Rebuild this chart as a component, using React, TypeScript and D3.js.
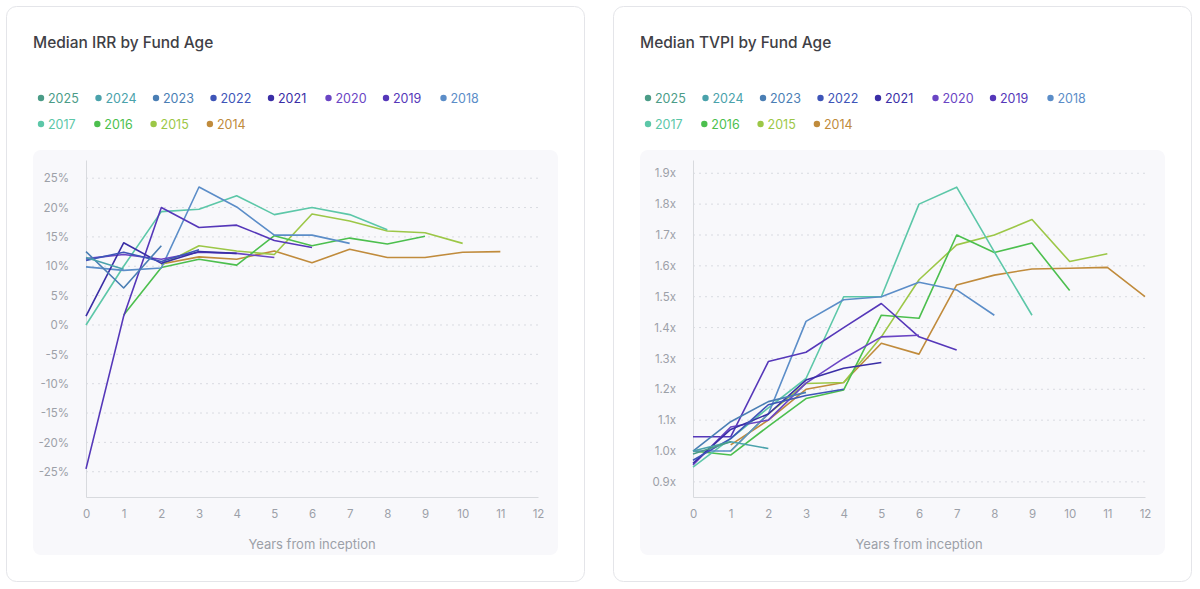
import React, { useRef, useEffect } from "react";
import * as d3 from "d3";

// vintages, newest first (legend order)
const vintages = ["2025", "2024", "2023", "2022", "2021", "2020", "2019", "2018", "2017", "2016", "2015", "2014"];

const colors = [
  "#4b9c87", "#4aa2ab", "#4a7eb4", "#3e55b8", "#3a2ea6", "#6a45c4",
  "#5537b9", "#5b8dc8", "#5cc7a8", "#4cbf4e", "#9cc747", "#c08b3c",
];

const years = [0, 1, 2, 3, 4, 5, 6, 7, 8, 9, 10, 11, 12];

// Median IRR (%) by fund age, index = years from inception
const irr2025 = [0.3];
const irr2024 = [11.5, 9.5];
const irr2023 = [12.5, 6.3, 13.5];
const irr2022 = [11.0, 12.4, 10.8, 12.8];
const irr2021 = [1.5, 14.0, 10.5, 12.5, 12.2];
const irr2020 = [11.3, 12.0, 11.2, 12.4, 12.2, 11.5];
const irr2019 = [-24.5, 1.5, 20.0, 16.6, 17.0, 14.4, 13.2];
const irr2018 = [9.9, 9.3, 9.7, 23.5, 20.1, 15.3, 15.3, 13.9];
const irr2017 = [0.0, 10.0, 19.3, 19.7, 22.0, 18.8, 20.0, 18.8, 16.2];
const irr2016 = [null, 1.7, 9.8, 11.2, 10.2, 15.2, 13.5, 14.8, 13.8, 15.1];
const irr2015 = [null, null, 10.2, 13.5, 12.6, 12.0, 18.9, 17.7, 16.0, 15.7, 13.9];
const irr2014 = [null, null, 10.4, 11.6, 11.2, 12.6, 10.6, 12.9, 11.5, 11.5, 12.4, 12.5];

// Median TVPI (x) by fund age
const tvpi2025 = [0.99, 1.03];
const tvpi2024 = [1.0, 1.03, 1.008];
const tvpi2023 = [1.0, 1.095, 1.16, 1.19];
const tvpi2022 = [0.97, 1.04, 1.15, 1.18, 1.2];
const tvpi2021 = [0.96, 1.07, 1.12, 1.23, 1.268, 1.287];
const tvpi2020 = [0.955, 1.078, 1.1, 1.22, 1.3, 1.37, 1.375];
const tvpi2019 = [1.046, 1.046, 1.29, 1.32, 1.4, 1.478, 1.37, 1.327];
const tvpi2018 = [1.0, 1.0, 1.12, 1.42, 1.49, 1.5, 1.547, 1.522, 1.44];
const tvpi2017 = [0.948, 1.04, 1.14, 1.235, 1.5, 1.5, 1.8, 1.855, 1.645, 1.44];
const tvpi2016 = [1.0, 0.987, 1.08, 1.17, 1.198, 1.44, 1.43, 1.7, 1.643, 1.674, 1.52];
const tvpi2015 = [null, 1.0, 1.12, 1.219, 1.222, 1.37, 1.555, 1.668, 1.7, 1.75, 1.614, 1.639];
const tvpi2014 = [null, 1.02, 1.1, 1.2, 1.222, 1.349, 1.314, 1.538, 1.57, 1.59, 1.592, 1.595, 1.5];

const irrSeries = [irr2025, irr2024, irr2023, irr2022, irr2021, irr2020, irr2019, irr2018, irr2017, irr2016, irr2015, irr2014];
const tvpiSeries = [tvpi2025, tvpi2024, tvpi2023, tvpi2022, tvpi2021, tvpi2020, tvpi2019, tvpi2018, tvpi2017, tvpi2016, tvpi2015, tvpi2014];

const irrTicks = [-25, -20, -15, -10, -5, 0, 5, 10, 15, 20, 25];
const tvpiTicks = [0.9, 1.0, 1.1, 1.2, 1.3, 1.4, 1.5, 1.6, 1.7, 1.8, 1.9];

const font = "Inter, 'Noto Sans', sans-serif";

type Cfg = {
  left: number;
  title: string;
  series: (number | null)[][];
  domain: [number, number];
  ticks: number[];
  fmt: (v: number) => string;
};

function drawCard(root: d3.Selection<SVGGElement, unknown, null, undefined>, cfg: Cfg) {
  const g = root.append("g").attr("transform", `translate(${cfg.left},6)`);

  g.append("rect")
    .attr("x", 0.5).attr("y", 0.5)
    .attr("width", 578).attr("height", 575)
    .attr("rx", 10)
    .attr("fill", "#fff")
    .attr("stroke", "#e4e5e9");

  g.append("text")
    .attr("x", 27).attr("y", 42)
    .style("font-family", font)
    .style("font-size", "15.5px")
    .style("font-weight", 500)
    .style("fill", "#3f3f46")
    .text(cfg.title);

  // legend
  vintages.forEach((v, i) => {
    const row = i < 8 ? 0 : 1;
    const col = row === 0 ? i : i - 8;
    const lx = 35 + col * (row === 0 ? 57.5 : 56.3);
    const ly = row === 0 ? 92 : 118;
    g.append("circle").attr("cx", lx).attr("cy", ly).attr("r", 3.2).attr("fill", colors[i]);
    g.append("text")
      .attr("x", lx + 7).attr("y", ly)
      .attr("dominant-baseline", "central")
      .style("font-family", font)
      .style("font-size", "12.5px")
      .style("fill", colors[i])
      .text(v);
  });

  // plot panel
  g.append("rect")
    .attr("x", 27).attr("y", 144)
    .attr("width", 525).attr("height", 405)
    .attr("rx", 8)
    .attr("fill", "#f8f8fb");

  const x = d3.scaleLinear().domain([0, 12]).range([80, 532]);
  const y = d3.scaleLinear().domain(cfg.domain).range([491, 154]);

  // grid
  g.append("g")
    .selectAll("line")
    .data(cfg.ticks)
    .enter()
    .append("line")
    .attr("x1", x(0)).attr("x2", x(12))
    .attr("y1", (d) => y(d)).attr("y2", (d) => y(d))
    .attr("stroke", "#d9dbe1")
    .attr("stroke-dasharray", "2,4");

  // axes
  const yAxis = g.append("g")
    .attr("transform", `translate(${x(0)},0)`)
    .call(d3.axisLeft(y).tickValues(cfg.ticks).tickFormat((d) => cfg.fmt(+d)).tickSize(0).tickPadding(17));
  yAxis.select(".domain").attr("stroke", "#d8dade");
  yAxis.selectAll("text")
    .style("font-family", font)
    .style("font-size", "11.5px")
    .attr("fill", "#9ca0a8");

  const xAxis = g.append("g")
    .attr("transform", `translate(0,${y.range()[0]})`)
    .call(d3.axisBottom(x).tickValues(years).tickFormat(d3.format("d")).tickSize(0).tickPadding(13));
  xAxis.select(".domain").attr("stroke", "#d8dade");
  xAxis.selectAll("text")
    .style("font-family", font)
    .style("font-size", "11.5px")
    .attr("fill", "#9ca0a8");

  g.append("text")
    .attr("x", (x(0) + x(12)) / 2).attr("y", 543)
    .attr("text-anchor", "middle")
    .style("font-family", font)
    .style("font-size", "13px")
    .style("fill", "#9ca0a8")
    .text("Years from inception");

  // lines, oldest drawn first
  const line = d3.line<number | null>()
    .defined((d) => d !== null)
    .x((_, i) => x(i))
    .y((d) => y(d as number));

  cfg.series
    .map((s, i) => ({ s, i }))
    .reverse()
    .forEach(({ s, i }) => {
      g.append("path")
        .datum(s)
        .attr("fill", "none")
        .attr("stroke", colors[i])
        .attr("stroke-width", 1.6)
        .attr("stroke-linejoin", "round")
        .attr("d", line);
    });
}

const App: React.FC = () => {
  const ref = useRef<SVGSVGElement>(null);

  useEffect(() => {
    const svg = d3.select(ref.current);
    svg.selectAll("*").remove();
    const root = svg.append("g") as d3.Selection<SVGGElement, unknown, null, undefined>;

    drawCard(root, {
      left: 6,
      title: "Median IRR by Fund Age",
      series: irrSeries,
      domain: [-29.3, 28.1],
      ticks: irrTicks,
      fmt: (v) => `${v}%`,
    });
    drawCard(root, {
      left: 613,
      title: "Median TVPI by Fund Age",
      series: tvpiSeries,
      domain: [0.851, 1.943],
      ticks: tvpiTicks,
      fmt: (v) => `${v.toFixed(1)}x`,
    });
  }, []);

  return (
    <div style={{ position: "absolute", left: 0, top: 0 }}>
      <svg ref={ref} width={1200} height={589} style={{ display: "block" }} />
    </div>
  );
};

export default App;
